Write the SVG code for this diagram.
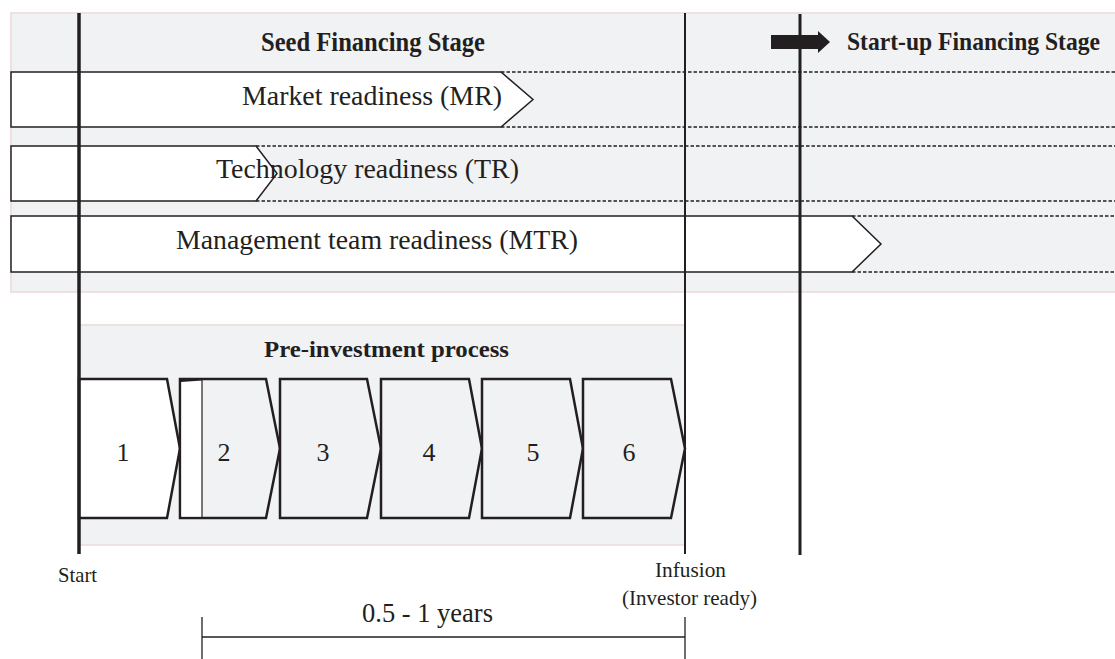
<svg xmlns="http://www.w3.org/2000/svg" width="1115" height="659" viewBox="0 0 1115 659">
<style>
.panel{fill:#f1f2f4;stroke:#efe1e1;stroke-width:2}
.bar{fill:#ffffff;stroke:#231f20;stroke-width:1.5}
.dash{fill:none;stroke:#231f20;stroke-width:1.5;stroke-dasharray:3.5 2}
.chev{stroke:#231f20;stroke-width:2.5;stroke-linejoin:miter}
.vline{stroke:#231f20;fill:none}
.t{font-family:"Liberation Serif","Times New Roman",serif;fill:#231f20}
.b{font-weight:bold}
</style>
<rect width="1115" height="659" fill="#ffffff"/>
<g id="seed-panel">
<rect class="panel" x="11" y="13" width="1110" height="279"/>
<text class="t b" x="261" y="50.5" font-size="27" textLength="224" lengthAdjust="spacingAndGlyphs">Seed Financing Stage</text>
</g>
<g id="startup-label">
<polygon points="771,35 818,35 818,31 830,42 818,53 818,49 771,49" fill="#231f20"/>
<text class="t b" x="847" y="50" font-size="24.5" textLength="253" lengthAdjust="spacingAndGlyphs">Start-up Financing Stage</text>
</g>
<g id="mr">
<polygon class="bar" points="11,72 501,72 533,99.5 501,127 11,127"/>
<line class="dash" x1="501" y1="72" x2="1115" y2="72"/>
<line class="dash" x1="501" y1="127" x2="1115" y2="127"/>
<text class="t" x="242" y="105" font-size="27.5" textLength="260" lengthAdjust="spacingAndGlyphs">Market readiness (MR)</text>
</g>
<g id="tr">
<polygon class="bar" points="11,146 256,146 277,173.5 256,201 11,201"/>
<line class="dash" x1="256" y1="146" x2="1115" y2="146"/>
<line class="dash" x1="256" y1="201" x2="1115" y2="201"/>
<text class="t" x="216" y="178" font-size="27.5" textLength="303" lengthAdjust="spacingAndGlyphs">Technology readiness (TR)</text>
</g>
<g id="mtr">
<polygon class="bar" points="11,216 852,216 881,244 852,272 11,272"/>
<line class="dash" x1="852" y1="216" x2="1115" y2="216"/>
<line class="dash" x1="852" y1="272" x2="1115" y2="272"/>
<text class="t" x="176" y="249" font-size="27.5" textLength="402" lengthAdjust="spacingAndGlyphs">Management team readiness (MTR)</text>
</g>
<g id="pre-investment">
<rect x="79" y="325" width="606" height="220" fill="#f1f2f4"/>
<line x1="79" y1="325" x2="685" y2="325" stroke="#efe1e1" stroke-width="2"/>
<line x1="79" y1="545" x2="685" y2="545" stroke="#efe1e1" stroke-width="2"/>
<text class="t b" x="264" y="357" font-size="24" textLength="245" lengthAdjust="spacingAndGlyphs">Pre-investment process</text>
</g>
<g id="step1">
<polygon class="chev" fill="#ffffff" points="79,379 167,379 180,448.5 167,518 79,518"/>
<text class="t" x="123" y="461" font-size="26" text-anchor="middle">1</text>
</g>
<g id="step2">
<polygon class="chev" fill="#f1f2f4" points="180,379 266,379 280,448.5 266,518 180,518"/>
<rect x="181.5" y="380.5" width="20.5" height="136" fill="#ffffff"/>
<line x1="202" y1="380" x2="202" y2="517" stroke="#231f20" stroke-width="1.2"/>
<polygon points="180,379 202,379 202,380.5 181,382" fill="#231f20"/>
<text class="t" x="224" y="461" font-size="26" text-anchor="middle">2</text>
</g>
<g id="step3">
<polygon class="chev" fill="#f1f2f4" points="280,379 367,379 381,448.5 367,518 280,518"/>
<text class="t" x="323" y="461" font-size="26" text-anchor="middle">3</text>
</g>
<g id="step4">
<polygon class="chev" fill="#f1f2f4" points="381,379 469,379 482,448.5 469,518 381,518"/>
<text class="t" x="429" y="461" font-size="26" text-anchor="middle">4</text>
</g>
<g id="step5">
<polygon class="chev" fill="#f1f2f4" points="482,379 570,379 583,448.5 570,518 482,518"/>
<text class="t" x="533" y="461" font-size="26" text-anchor="middle">5</text>
</g>
<g id="step6">
<polygon class="chev" fill="#f1f2f4" points="583,379 671,379 685,448.5 671,518 583,518"/>
<text class="t" x="629" y="461" font-size="26" text-anchor="middle">6</text>
</g>
<g id="connectors">
<line class="vline" x1="79" y1="13" x2="79" y2="554" stroke-width="3.5"/>
<line class="vline" x1="685" y1="13" x2="685" y2="554" stroke-width="2"/>
<line class="vline" x1="800" y1="14" x2="800" y2="555" stroke-width="3"/>
<line class="vline" x1="202" y1="637" x2="685" y2="637" stroke-width="1.3"/>
<line class="vline" x1="202" y1="617" x2="202" y2="659" stroke-width="1.3"/>
<line class="vline" x1="685" y1="617" x2="685" y2="659" stroke-width="1.3"/>
</g>
<g id="labels">
<text class="t" x="58" y="582" font-size="21" textLength="39" lengthAdjust="spacingAndGlyphs">Start</text>
<text class="t" x="655" y="577" font-size="21" textLength="71" lengthAdjust="spacingAndGlyphs">Infusion</text>
<text class="t" x="622" y="605" font-size="21" textLength="135" lengthAdjust="spacingAndGlyphs">(Investor ready)</text>
<text class="t" x="362" y="622" font-size="27" textLength="131" lengthAdjust="spacingAndGlyphs">0.5 - 1 years</text>
</g>
</svg>
